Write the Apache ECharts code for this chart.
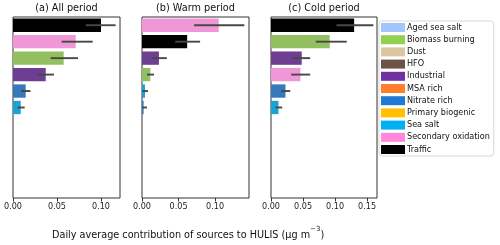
<!DOCTYPE html>
<html>
<head>
<meta charset="utf-8">
<script src="https://cdn.jsdelivr.net/npm/echarts@6/dist/echarts.min.js"></script>
<style>html,body{margin:0;padding:0;background:#fff}#c{width:500px;height:245px}</style>
</head>
<body>
<div id="c"></div>
<script>
// ---- data ----
const categories = ['Aged sea salt','Biomass burning','Dust','HFO','Industrial','MSA rich','Nitrate rich','Primary biogenic','Sea salt','Secondary oxidation','Traffic'];
const colors = ['#a3c5fd','#92d050','#dcc5a1','#6d5347','#7030a0','#ff7f2a','#1f78d1','#ffc000','#00b0f0','#ff88dd','#000000'];
const panelTitles = ['(a) All period','(b) Warm period','(c) Cold period'];
// mean contribution per category (same order as categories)
const allMean  = [0, 0.0576, 0, 0, 0.0372, 0, 0.0144, 0, 0.0088, 0.0713, 0.1000];
const allLow   = [0, 0.0428, 0, 0, 0.0284, 0, 0.0091, 0, 0.0053, 0.0553, 0.0826];
const allHigh  = [0, 0.0739, 0, 0, 0.0466, 0, 0.0198, 0, 0.0133, 0.0906, 0.1166];
const warmMean = [0, 0.0114, 0, 0, 0.0232, 0, 0.0022, 0, 0.0041, 0.1050, 0.0618];
const warmLow  = [0, 0.0068, 0, 0, 0.0132, 0, 0.0000, 0, 0.0004, 0.0713, 0.0454];
const warmHigh = [0, 0.0164, 0, 0, 0.0340, 0, 0.0068, 0, 0.0082, 0.1400, 0.0795];
const coldMean = [0, 0.0917, 0, 0, 0.0480, 0, 0.0226, 0, 0.0117, 0.0460, 0.1298];
const coldLow  = [0, 0.0699, 0, 0, 0.0340, 0, 0.0159, 0, 0.0070, 0.0315, 0.1022];
const coldHigh = [0, 0.1183, 0, 0, 0.0612, 0, 0.0300, 0, 0.0175, 0.0612, 0.1599];
const axisMax = [0.1216, 0.1464, 0.1655];
const xTicks = [[0, 0.05, 0.10], [0, 0.05, 0.10], [0, 0.05, 0.10, 0.15]];
const xTitle = 'Daily average contribution of sources to HULIS (μg m';
const xTitleSup = '−3';

// ---- helpers ----
function desat(hex, f) {
  let r = parseInt(hex.substr(1,2),16)/255, g = parseInt(hex.substr(3,2),16)/255, b = parseInt(hex.substr(5,2),16)/255;
  const mx = Math.max(r,g,b), mn = Math.min(r,g,b);
  const l = (mx+mn)/2, d = mx-mn;
  if (d === 0) return hex;
  const s = d/(1-Math.abs(2*l-1));
  const s2 = s*f;
  const c = (1-Math.abs(2*l-1))*s2;
  const nmx = l + c/2, nmn = l - c/2;
  const conv = v => Math.round((nmn + (v-mn)/d*(nmx-nmn))*255);
  return 'rgb(' + conv(r) + ',' + conv(g) + ',' + conv(b) + ')';
}

const panels = [[allMean, allLow, allHigh], [warmMean, warmLow, warmHigh], [coldMean, coldLow, coldHigh]];
const gridLeft = [13, 142, 271];
const gridWidth = [107, 107, 106];
const FONT = 'DejaVu Sans';

const grids = [], xAxes = [], yAxes = [], series = [], titles = [];
panels.forEach((p, i) => {
  const [mean, low, high] = p;
  const idx = categories.map((_, k) => k).sort((a, b) => mean[b] - mean[a]);
  const cats = idx.map(k => categories[k]);
  grids.push({left: gridLeft[i], width: gridWidth[i], top: 17, height: 181, show: true, borderColor: '#333', borderWidth: 1, backgroundColor: 'transparent'});
  xAxes.push({type: 'value', gridIndex: i, min: 0, max: axisMax[i],
    axisLine: {show: false}, splitLine: {show: false},
    axisTick: {show: true, length: 3.5, lineStyle: {color: '#333', width: 1}, customValues: xTicks[i]},
    axisLabel: {fontSize: 8.1, fontFamily: FONT, color: '#222', margin: 5, customValues: xTicks[i], formatter: v => v.toFixed(2)}});
  yAxes.push({type: 'category', gridIndex: i, data: cats, inverse: true,
    axisLine: {show: false}, axisTick: {show: false}, axisLabel: {show: false}, splitLine: {show: false}});
  series.push({type: 'bar', xAxisIndex: i, yAxisIndex: i, barCategoryGap: '19%', silent: true,
    data: idx.map(k => ({value: mean[k], itemStyle: {color: desat(colors[k], 0.75)}}))});
  series.push({type: 'custom', xAxisIndex: i, yAxisIndex: i, z: 5, silent: true,
    data: idx.map((k, j) => [low[k], high[k], j, mean[k]]).filter(d => d[3] > 0),
    renderItem: (params, api) => {
      const a = api.coord([api.value(0), api.value(2)]);
      const b = api.coord([api.value(1), api.value(2)]);
      return {type: 'line', shape: {x1: a[0], y1: a[1], x2: b[0], y2: b[1]}, style: {stroke: '#484848', lineWidth: 1.9}};
    }});
  titles.push({text: panelTitles[i], left: gridLeft[i] + gridWidth[i]/2, top: 3, textAlign: 'center', padding: 0,
    textStyle: {fontSize: 9.7, fontWeight: 'normal', fontFamily: FONT, color: '#111'}});
});
// legend entries (empty series carrying the colours)
categories.forEach((c, k) => {
  series.push({type: 'scatter', name: c, xAxisIndex: 0, yAxisIndex: 0, data: [], itemStyle: {color: colors[k], opacity: 1}});
});

const chart = echarts.init(document.getElementById('c'), null, {renderer: 'canvas'});
chart.setOption({
  animation: false,
  title: titles,
  grid: grids, xAxis: xAxes, yAxis: yAxes, series: series,
  legend: {data: categories, orient: 'vertical', left: 379, top: 21, icon: 'rect', itemWidth: 24, itemHeight: 9,
    itemGap: 3.2, padding: [2, 4, 2, 2], borderColor: '#d8d8d8', borderWidth: 1, borderRadius: 3,
    itemStyle: {opacity: 1}, selectedMode: false,
    textStyle: {fontSize: 8.1, fontFamily: FONT, color: '#111', lineHeight: 9, padding: [0, 0, 0, -3]}},
  graphic: [{type: 'text', left: 52, top: 226,
    style: {text: '{n|' + xTitle + '}{s|' + xTitleSup + '}{n|)}', fill: '#111', font: '9.7px "DejaVu Sans"',
      rich: {n: {fontSize: 9.7, fontFamily: FONT, lineHeight: 14, verticalAlign: 'bottom'},
             s: {fontSize: 7, fontFamily: FONT, lineHeight: 14, verticalAlign: 'top'}}}}]
});
</script>
</body>
</html>
